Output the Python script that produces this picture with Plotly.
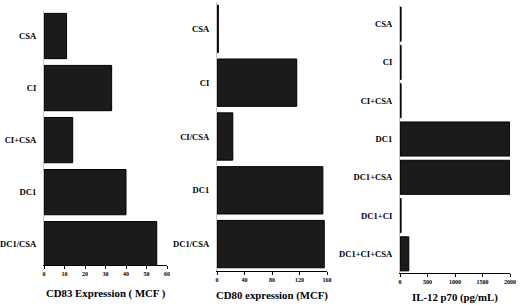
import plotly.graph_objects as go

# Panel 1: CD83
cd83_cats = ["CSA", "CI", "CI+CSA", "DC1", "DC1/CSA"]
cd83_vals = [11, 33, 14, 40, 55]
cd83_ticks = [0, 10, 20, 30, 40, 50, 60]

# Panel 2: CD80
cd80_cats = ["CSA", "CI", "CI/CSA", "DC1", "DC1/CSA"]
cd80_vals = [2, 116, 23, 154, 156]
cd80_ticks = [0, 40, 80, 120, 160]

# Panel 3: IL-12 p70
il12_cats = ["CSA", "CI", "CI+CSA", "DC1", "DC1+CSA", "DC1+CI", "DC1+CI+CSA"]
il12_vals = [20, 20, 20, 2000, 2000, 20, 160]
il12_ticks = [0, 500, 1000, 1500, 2000]

W, H = 520, 306
FONT = "Liberation Serif"
BAR = "#1b1b1b"

def px_x(p):
    return p / W

def px_y(p):
    return 1 - p / H

fig = go.Figure()

panels = [
    dict(cats=cd83_cats, vals=cd83_vals, ticks=cd83_ticks, xr=[0, 60], x0=44, x1=167,
         y0=10, y1=265, yr=[4.4, -0.5], gap=0.13, title="CD83 Expression ( MCF )", ty=293),
    dict(cats=cd80_cats, vals=cd80_vals, ticks=cd80_ticks, xr=[0, 160], x0=217, x1=327,
         y0=2, y1=271, yr=[4.5, -0.5], gap=0.12, title="CD80 expression (MCF)", ty=295),
    dict(cats=il12_cats, vals=il12_vals, ticks=il12_ticks, xr=[0, 2000], x0=400, x1=510,
         y0=5, y1=273, yr=[6.5, -0.5], gap=0.11, title="IL-12 p70 (pg/mL)", ty=297),
]

layout = dict(
    width=W, height=H,
    margin=dict(l=0, r=0, t=0, b=0, pad=0),
    paper_bgcolor="white", plot_bgcolor="white",
    showlegend=False,
    font=dict(family=FONT, color="black"),
    annotations=[],
)

for i, p in enumerate(panels, start=1):
    xa = "x" if i == 1 else f"x{i}"
    ya = "y" if i == 1 else f"y{i}"
    fig.add_trace(go.Bar(
        x=p["vals"], y=list(range(len(p["cats"]))), orientation="h",
        marker=dict(color=BAR, line=dict(color="black", width=1)),
        width=1 - p["gap"],
        xaxis=xa, yaxis=ya, hoverinfo="skip",
    ))
    xkey = "xaxis" if i == 1 else f"xaxis{i}"
    ykey = "yaxis" if i == 1 else f"yaxis{i}"
    layout[xkey] = dict(
        domain=[px_x(p["x0"]), px_x(p["x1"])], anchor=ya, range=p["xr"],
        tickvals=p["ticks"], ticktext=[str(t) for t in p["ticks"]],
        showgrid=False, zeroline=False, showline=True, linecolor="black", linewidth=1,
        ticks="outside", ticklen=3, tickwidth=1, tickcolor="black",
        tickfont=dict(family=FONT, size=6, color="black", weight="bold"),
        automargin=False, fixedrange=True,
    )
    layout[ykey] = dict(
        domain=[px_y(p["y1"]), px_y(p["y0"])], anchor=xa, range=p["yr"],
        tickvals=list(range(len(p["cats"]))), ticktext=p["cats"],
        showgrid=False, zeroline=False, showline=True, linecolor="#c8c8c8", linewidth=1,
        ticks="", ticklabelstandoff=5,
        tickfont=dict(family=FONT, size=8.6, color="black", weight="bold"),
        automargin=False, fixedrange=True,
    )
    layout["annotations"].append(dict(
        text=f"<b>{p['title']}</b>", xref="paper", yref="paper",
        x=px_x((p["x0"] + p["x1"]) / 2), y=px_y(p["ty"]),
        xanchor="center", yanchor="middle", showarrow=False,
        font=dict(family=FONT, size=10.8, color="black"),
    ))

fig.update_layout(**layout)
# remove the browser's default 8px body margin so the figure fills the window
fig.write_html("out.html",
               config={"displayModeBar": False, "staticPlot": True},
               post_script="document.body.style.margin='0px';document.body.style.overflow='hidden';")
